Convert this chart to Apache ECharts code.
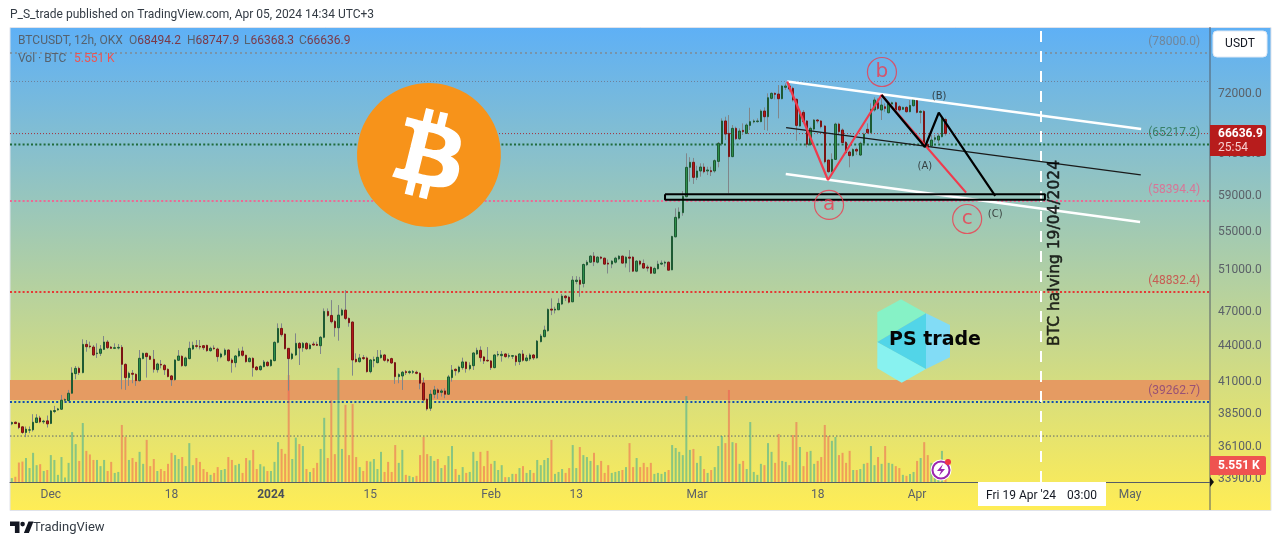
<!DOCTYPE html>
<html>
<head>
<meta charset="utf-8">
<style>html,body{margin:0;padding:0;background:#fff}#c{width:1281px;height:545px}</style>
<script src="https://cdn.jsdelivr.net/npm/echarts@6/dist/echarts.min.js"></script>
</head>
<body>
<div id="c"></div>
<script>
// each row: open, close, low, high (USDT)
const candles = [
[37780,37880,37680,37950],[37900,37800,37760,37950],[37830,37510,37390,37880],[37560,37150,37050,37585],[37150,37390,36810,37585],
[37320,37340,37100,37585],[37340,37900,37220,38500],[37880,38220,37830,38500],[38220,37930,37830,38375],[37930,37980,37780,38075],
[38000,37780,37510,38400],[37810,38750,37760,38825],[38700,38775,38575,39130],[38825,38900,38775,38980],[38875,39565,38825,39980],
[39565,39615,39385,39720],[39540,40110,39465,40370],[40110,41730,40060,42200],[41680,42110,41220,42305],[42110,41760,41570,42250],
[41760,44130,41705,44570],[44130,43930,43500,44510],[43990,43930,43790,44365],[43900,43225,43140,44075],[43340,43390,42975,44220],
[43365,43730,43140,44075],[43700,44335,43645,44860],[44335,43845,43730,44510],[43900,43790,43760,43990],[43790,43845,43730,44220],
[43815,43875,43700,44160],[43875,42440,40420,44075],[42440,41355,40370,42525],[41355,41705,40690,41840],[41705,41625,40900,41975],
[41625,41110,40690,41705],[41110,42945,41030,43645],[42920,43365,42860,43420],[43365,43085,41355,43420],[43115,42860,42805,43225],
[42860,42030,41760,43645],[42000,42470,41760,42580],[42440,42385,42110,42805],[42360,42000,41570,42470],[42030,41435,41380,42110],
[41490,41190,40690,41570],[41190,42805,41110,42860],[42780,43140,42725,43645],[43115,42330,42250,43200],[42330,42975,42250,43085],
[42920,43790,42860,44365],[43730,44045,43645,44365],[44015,43960,43790,44510],[43960,43900,43700,44510],[44015,43845,43645,44075],
[44045,43590,43500,44100],[43590,43790,43500,43930],[43815,43760,43675,44045],[43730,43085,42665,43845],[43060,43310,42945,43420],
[43250,43645,43140,43790],[43645,42750,42665,43700],[42805,42580,41760,42945],[42580,43140,42195,43225],[43140,43560,43030,43790],
[43560,43200,43085,43930],[43200,42665,42580,43250],[42665,42945,42610,43030],[42945,42170,41435,43030],[42220,42000,41920,42305],
[42000,42275,41920,42360],[42250,42640,42195,42805],[42610,42330,42250,42725],[42330,42805,42250,42860],[42750,44305,42690,44395],
[44305,45530,44220,45980],[45530,44975,44800,45980],[45030,43760,43700,45090],[43790,42920,40320,43815],[42920,43310,42805,43420],
[43225,44220,43140,45090],[44220,43815,42385,44335],[43845,44220,43500,44335],[44220,43760,43645,44335],[43760,44075,43700,44220],
[44160,44075,44015,44365],[44130,44045,43990,44365],[44015,44745,43310,44860],[44745,47070,44660,47345],[47070,46700,46580,47345],
[46700,46130,45980,48120],[46160,45590,44800,46280],[45590,46730,44450,47655],[46730,47190,46640,47345],[47190,46430,46280,49070],
[46430,46040,45680,46520],[46100,42805,41515,46160],[42860,42665,42580,43365],[42665,42975,42580,43310],[43000,42920,42805,43225],
[42975,41840,41760,43085],[41840,42805,41705,42890],[42750,42835,42195,43085],[42580,43030,42525,43645],[43000,43225,42920,43645],
[43225,42780,42665,43310],[42835,42725,42580,42945],[42920,42555,42470,43000],[42580,41435,40850,42640],[41435,41600,40900,41705],
[41490,41790,40370,41895],[41840,41760,41570,41975],[41760,41840,41630,41950],[41790,41840,41650,41975],[41790,41705,41625,41920],
[41705,40900,40420,41790],[40925,39590,39540,41355],[39640,38900,38775,39720],[38950,40030,38750,40370],[40030,40370,39720,40690],
[40370,40160,39670,40500],[40185,40290,39850,40450],[40290,40030,39720,40500],[40030,41410,39980,41570],[41355,41975,41030,42385],
[42030,41920,41515,42110],[41840,42220,41705,42330],[42170,42640,42000,43000],[42640,42085,41760,42665],[42085,42360,41950,42610],
[42330,43395,41975,43450],[43310,43620,43225,43845],[43620,43000,42665,43960],[43060,42725,42470,43140],[42780,42725,42665,43900],
[42725,42170,41975,42805],[42170,43225,42110,43280],[43225,43280,43085,43560],[43170,43280,42665,43560],[43310,43085,43000,43365],
[43115,43170,42945,43365],[43115,43170,42890,43225],[43140,42665,42330,43225],[42665,43310,42385,43365],[43310,42780,42665,43645],
[42750,42975,42665,43225],[42890,43225,42725,43365],[43225,42975,42805,43310],[42975,44420,42920,44510],[44365,44860,44305,45030],
[44800,45380,44745,45770],[45320,47250,45240,47345],[47280,47190,46730,48280],[47190,47280,46880,47500],[47220,47810,47190,48280],
[47750,48500,47655,48700],[48500,48340,48030,48590],[48400,47930,47810,48530],[47960,50035,47930,50430],[49900,50035,49640,50430],
[50035,49640,48435,50360],[49710,51590,49330,51690],[51560,51820,51430,52030],[51820,52440,51760,52540],[52440,51860,51430,52850],
[51820,52340,51690,52440],[52340,52230,52100,52440],[52230,51630,51560,52300],[51730,51630,50690,52100],[51630,51930,51220,52030],
[51820,52230,51690,52370],[52160,52440,52030,52540],[52440,51730,51690,52510],[51730,52340,51290,52440],[52340,52230,50820,53060],
[52340,50920,50850,52440],[50920,51930,50820,52030],[51930,51630,51490,52030],[51690,51230,51160,52100],[51330,51230,50890,51560],
[51330,50720,50650,51390],[50720,51190,50650,51360],[51160,51630,51090,51970],[51630,51730,51530,52000],[51730,51820,51360,51970],
[51820,51020,50990,51900],[51050,54500,51020,54570],[54460,56570,54390,57570],[56490,57160,56340,57680],[57090,58940,56750,59550],
[58900,62380,58820,64110],[62380,63000,60660,63630],[63000,61170,60390,63540],[61170,61940,60850,62580],[61940,62420,61250,62870],
[62420,61850,61650,62870],[61940,62060,61450,62460],[61980,61850,61330,62460],[61940,63200,61730,63360],[63110,65380,62380,65550],
[65290,68300,65210,68650],[68300,66580,65800,68870],[66670,63700,59290,69090],[63700,67320,63630,67760],[67320,65970,65800,67540],
[65970,66970,65800,67320],[67060,66890,66450,67980],[66670,67760,66580,67980],[67710,68210,67105,70090],[68170,68300,67980,68520],
[68210,68300,68070,68650],[68210,69640,68120,69870],[69640,68870,67105,70140],[68870,71480,67020,72090],[71390,72090,71250,72230],
[72090,71950,71250,72230],[71990,71340,68650,73270],[71340,73130,71250,73270],[72940,73130,72560,73510],[73130,72700,72320,73890],
[72800,71160,70930,73030],[71250,67710,65720,71390],[67630,69460,67540,69780],[69460,68210,67980,69780],[68300,65250,64860,68430],
[65250,67320,65030,67540],[67230,68430,67020,68560],[68430,68300,67980,68560],[68300,67540,67320,68430],[67630,63070,62870,67760],
[63280,61850,61730,63280],[61850,63360,61770,64110],[63360,67890,63280,68070],[67890,66890,66670,68070],[67105,65470,65290,67320],
[65510,64200,64030,65670],[64280,63830,62380,64450],[63830,64610,63700,64740],[64610,64400,63900,64820],[63900,65380,63780,65590],
[65380,66580,65290,66760],[67190,66760,66580,67980],[66760,69870,66670,70690],[69780,71160,69550,71530],[70780,70000,69780,71390],
[69780,70460,68430,71390],[70230,70000,69550,70690],[69410,70690,69320,70930],[70600,70780,70320,70930],[70780,69780,69550,70930],
[70230,69780,69550,70460],[69870,70140,69780,70230],[70140,69550,69410,70320],[69550,70410,69460,71160],[70370,71250,70230,71390],
[71250,69460,69320,71390],[69460,69590,67980,69780],[69590,65080,64860,69780],[65250,64860,64610,65590],[65030,65800,64950,66450],
[65890,66100,65590,66450],[65800,66320,65380,66670],[66230,68650,66140,68870],[68494.2,66636.9,66368.3,68747.9]
];
// volume, thousands of BTC
const volumes = [
1.2,1.6,6.0,6.3,7.4,4.3,9.0,5.2,5.5,3.4,
3.7,8.3,6.8,2.2,7.7,1.4,5.9,15.4,11.7,6.5,
18.2,9.6,8.5,6.8,6.8,4.9,6.8,3.4,6.2,2.8,
3.1,17.6,13.9,6.8,7.4,6.2,9.3,5.6,13.0,4.9,
7.1,3.4,4.0,3.4,5.6,9.0,8.3,7.1,7.7,4.9,
12.0,5.2,7.4,6.2,4.0,3.1,2.2,2.8,4.6,3.7,
4.0,7.7,6.8,5.2,5.6,2.8,7.4,6.7,9.9,4.0,
5.5,4.8,3.4,3.4,6.2,12.3,10.2,8.7,33.0,7.1,
13.7,11.7,11.1,4.0,3.1,4.3,5.9,10.2,19.8,7.4,
25.3,8.6,35.2,10.2,23.8,8.3,24.1,7.7,4.6,3.4,
6.5,6.3,7.1,4.0,9.3,3.1,6.2,3.1,11.4,5.9,
9.9,2.2,1.9,1.5,1.9,8.3,13.9,8.6,8.0,
6.5,7.1,4.3,5.2,8.0,11.1,4.0,2.2,4.6,2.8,
3.1,9.3,6.5,9.3,4.9,9.6,5.6,6.5,3.7,5.2,
1.5,1.5,2.5,2.5,4.3,4.9,2.8,3.7,2.8,6.8,
5.2,6.8,7.4,13.0,2.5,3.1,4.0,2.8,4.3,11.4,
4.3,10.8,8.3,7.7,6.5,9.0,5.2,6.5,2.8,5.2,
2.8,3.1,3.4,3.7,4.6,12.0,4.6,7.4,4.6,5.9,
4.6,5.9,2.5,2.8,2.5,3.1,3.7,11.4,10.5,9.3,
8.3,26.5,9.9,
10.2,5.9,8.0,4.0,2.8,3.7,4.6,11.1,14.2,12.0,
28.4,12.3,12.0,5.6,6.5,4.0,18.5,3.1,2.2,5.6,
5.2,12.0,9.3,5.9,14.8,6.5,6.2,5.2,14.5,18.5,
10.8,4.9,9.3,9.6,5.6,6.5,7.7,17.6,14.2,12.7,
13.9,8.3,9.0,5.9,9.6,3.7,3.7,4.0,5.6,5.9,
11.1,5.2,7.7,5.6,11.1,5.9,5.6,4.9,4.3,2.2,
1.9,2.5,3.1,6.5,7.4,12.3,8.3,5.9,5.2,2.2,
9.6,5.551
];
const firstBarTime = Date.UTC(2023,10,25,12);
const totalSlots = 338;
const xTicks = {'2023-12-01':'Dec','2023-12-18':'18','2024-01-01':'2024','2024-01-15':'15','2024-02-01':'Feb','2024-02-13':'13','2024-03-01':'Mar','2024-03-18':'18','2024-04-01':'Apr','2024-05-01':'May'};
const priceTicks = [72000,64000,59000,55000,51000,47000,44000,41000,38500,36100,33900];
// annotation x values are bar slots (fractional), y values are prices
const priceLines = [
 {value:78000,color:'#7f8a94',width:1.5,dash:[2,3],text:'(78000.0)',tc:'#747c86'},
 {value:73780,color:'#6f8199',width:1,dash:[1,2]},
 {value:66636.9,color:'#a5303a',width:1,dash:[1,2]},
 {value:65240,color:'#1f6b3c',width:2,dash:[2,2.2],text:'(65217.2)',tc:'#25704c'},
 {value:58394.4,color:'#ec6a94',width:2,dash:[2,2.2],text:'(58394.4)',tc:'#e8628c'},
 {value:48900,color:'#e53935',width:2,dash:[2,2.2],text:'(48832.4)',tc:'#cc4040'},
 {value:39435,color:'#1450b0',width:2,dash:[2,2.2],text:'(39262.7)',tc:'#84407a'},
 {value:36890,color:'#5b6470',width:1,dash:[1.5,2]}
];
const zoneHigh = 41165, zoneLow = 39590;
const channelTop = [[218.9,73780],[318.6,67240]];
const channelMid = [[218.6,67410],[318.5,61470]];
const channelLow = [[218.5,61580],[318.3,56050]];
const redWave = [[218.9,73780],[230.4,60860],[245.5,71860],[269.3,59370]];
const blackWave = [[245.5,71860],[257.7,64910],[261.6,69410],[277.5,59000]];
const supportBox = [[184.5,59170],[291.5,59170],[291.5,58550],[184.5,58550],[184.5,59170]];
const halvingLine = [[290.4,33720],[290.4,81915]];
const waveCircles = [['a',230.7,57960],['b',245.6,75165],['c',269.6,56390]];
const waveTexts = [['(A)',257.7,62550],['(B)',261.7,71720],['(C)',277.5,56950]];

const catAll = [];
for(let i=0;i<totalSlots;i++){const d=new Date(firstBarTime+i*43200000).toISOString();catAll.push(d.slice(0,13));}
const tickIndex = {};
catAll.forEach((c,i)=>{const d=c.slice(0,10);if(c.endsWith('T00')&&xTicks[d])tickIndex[i]=xTicks[d];});

const lineSeries=(name,data,color,width,z,dash)=>({name,type:'line',xAxisIndex:1,yAxisIndex:0,data,showSymbol:false,symbol:'none',silent:true,z,lineStyle:{color,width,type:dash||'solid'}});
const F='Roboto, sans-serif';
const series=[
 {type:'line',xAxisIndex:1,yAxisIndex:0,data:[],z:1,silent:true,
  markArea:{silent:true,itemStyle:{color:'#e59b62'},data:[[{xAxis:0,yAxis:zoneHigh},{xAxis:totalSlots,yAxis:zoneLow}]]}},
 ...priceLines.map(l=>lineSeries('p'+l.value,[[0,l.value],[totalSlots,l.value]],l.color,l.width,2,l.dash)),
 {type:'bar',xAxisIndex:0,yAxisIndex:1,barWidth:2,z:3,silent:true,data:volumes,
  itemStyle:{color:p=>candles[p.dataIndex][1]>=candles[p.dataIndex][0]?'rgba(38,166,154,0.5)':'rgba(239,83,80,0.5)'}},
 {type:'candlestick',xAxisIndex:0,yAxisIndex:0,barWidth:1,z:4,silent:true,data:candles,
  itemStyle:{color:'#80868a',color0:'#80868a',borderColor:'#80868a',borderColor0:'#80868a',borderWidth:1}},
 {type:'candlestick',xAxisIndex:0,yAxisIndex:0,barWidth:2,z:5,silent:true,
  data:candles.map(r=>[r[0],r[1],Math.min(r[0],r[1]),Math.max(r[0],r[1])]),
  itemStyle:{color:'#2e8e4a',color0:'#b01818',borderColor:'#1d5a33',borderColor0:'#7a1414',borderWidth:1}},
 lineSeries('halving',halvingLine,'#ffffff',2,6,[11,9]),
 lineSeries('top',channelTop,'#ffffff',2.5,6),
 lineSeries('low',channelLow,'#ffffff',2.5,6),
 lineSeries('mid',channelMid,'#1a1a1a',1.2,6),
 lineSeries('box',supportBox,'#000000',2,6),
 lineSeries('red',redWave,'#ef3b4d',2.2,7),
 lineSeries('black',blackWave,'#000000',2.2,8),
 {type:'scatter',xAxisIndex:1,yAxisIndex:0,z:9,silent:true,symbolSize:29,
  data:waveCircles.map(c=>({value:[c[1],c[2]],label:{formatter:c[0]}})),
  itemStyle:{color:'rgba(0,0,0,0)',borderColor:'#ef3b4d',borderWidth:1.2},
  label:{show:true,position:'inside',color:'#ef3b4d',fontSize:20,fontFamily:'DejaVu Sans'}},
 {type:'scatter',xAxisIndex:1,yAxisIndex:0,z:9,silent:true,symbolSize:0,
  data:waveTexts.map(c=>({value:[c[1],c[2]],label:{formatter:c[0]}})),
  label:{show:true,position:'inside',color:'#222',fontSize:10,fontFamily:'DejaVu Sans'}},
 {type:'scatter',xAxisIndex:1,yAxisIndex:0,z:9,silent:true,symbolSize:0,
  data:priceLines.filter(l=>l.text).map(l=>({value:[335.2,l.value],label:{formatter:l.text,color:l.tc}})),
  label:{show:true,position:[0,-17],align:'right',fontSize:12,fontFamily:F}},
 {type:'scatter',xAxisIndex:1,yAxisIndex:0,z:9,silent:true,symbolSize:0,
  data:[{value:[294.4,52770],label:{formatter:'BTC halving 19/04/2024'}}],
  label:{show:true,position:'inside',rotate:90,color:'#000',fontSize:15.5,fontFamily:'DejaVu Sans',textBorderColor:'#000',textBorderWidth:0.5}}
];
const T=(text,x,y,fill,extra)=>({type:'text',z:200,silent:true,style:Object.assign({text,x,y,fill,font:'12px '+F,verticalAlign:'middle'},extra||{})});
const legend=(p,v,x)=>({type:'text',z:200,silent:true,style:{text:'{l|'+p+'}{v|'+v+'}',x,y:41,verticalAlign:'middle',rich:{l:{fill:'#56626e',font:'12px '+F},v:{fill:'#7a3a48',font:'12px '+F}}}});
const btcCircle='M63.04 39.741c-4.274 17.143-21.638 27.575-38.783 23.301C7.12 58.768-3.313 41.404.962 24.262 5.234 7.117 22.597-3.317 39.737.957c17.144 4.274 27.576 21.64 23.302 38.784z';
const btcB='M46.11 27.441c.636-4.258-2.606-6.547-7.039-8.074l1.438-5.768-3.512-.875-1.4 5.616c-.922-.23-1.87-.447-2.812-.662l1.41-5.653-3.509-.875-1.439 5.766c-.764-.174-1.514-.346-2.242-.527l.004-.018-4.842-1.209-.934 3.75s2.605.597 2.55.634c1.422.355 1.68 1.296 1.636 2.042l-1.638 6.571c.098.025.225.061.365.117l-.37-.092-2.297 9.205c-.174.432-.615 1.08-1.609.834.035.051-2.552-.637-2.552-.637l-1.743 4.02 4.57 1.139c.85.213 1.683.436 2.502.646l-1.453 5.835 3.507.875 1.44-5.772c.957.26 1.887.5 2.797.726L27.504 50.8l3.511.875 1.453-5.823c5.987 1.133 10.49.676 12.383-4.738 1.527-4.36-.075-6.875-3.225-8.516 2.294-.531 4.022-2.04 4.483-5.157zM38.087 38.69c-1.086 4.36-8.426 2.004-10.807 1.412l1.928-7.729c2.38.594 10.011 1.77 8.88 6.317zm1.085-11.312c-.99 3.966-7.1 1.951-9.083 1.457l1.748-7.01c1.983.494 8.367 1.416 7.335 5.553z';
echarts.graphic.registerShape('btcCircle',echarts.graphic.extendPath(btcCircle,{}));
echarts.graphic.registerShape('btcB',echarts.graphic.extendPath(btcB,{}));
echarts.graphic.registerShape('tvLogo',echarts.graphic.extendPath('M10 521.5h9.5v11.5h-4.6v-7h-4.9zM22.6 521.8a2.3 2.3 0 1 0 .01 0zM28.5 521.5h5l-4.6 11.5h-5z',{}));
const poly=(points,fill,z)=>({type:'polygon',z:z||100,silent:true,shape:{points},style:{fill}});
const graphic=[
 {type:'rect',z:-10,silent:true,shape:{x:10,y:27.5,width:1261,height:483},style:{stroke:'#e0e3eb',lineWidth:1,fill:new echarts.graphic.LinearGradient(0,0,0,1,[{offset:0,color:'#5eb0f6'},{offset:1,color:'#ffed55'}])}},
 {type:'line',z:100,silent:true,shape:{x1:1210,y1:27,x2:1210,y2:510},style:{stroke:'#555c66',lineWidth:1}},
 {type:'btcCircle',z:100,silent:true,x:357,y:83,scaleX:2.25,scaleY:2.25,style:{fill:'#f7931a'}},
 {type:'btcB',z:101,silent:true,x:357,y:83,scaleX:2.25,scaleY:2.25,style:{fill:'#ffffff'}},
 poly([[877.3,312.3],[901,299.3],[926,313.3],[877.3,342]],'#86f2c6'),
 poly([[877.3,342],[901.5,355],[926,369],[901.7,382.7],[877.3,368.3]],'#88f2f0'),
 poly([[926,313.3],[877.3,342],[926,369]],'#52d5e8'),
 poly([[926,313.3],[950,325],[950,357.3],[926,369]],'#82dcf6'),
 T('PS trade',889,340,'#050505',{font:'bold 19px "DejaVu Sans"'}),
 T('P_S_trade published on TradingView.com, Apr 05, 2024 14:34 UTC+3',10,15,'#333b44'),
 T('BTCUSDT, 12h, OKX',18,41,'#56626e'),
 legend('O','68494.2',129),legend('H','68747.9',187),legend('L','66368.3',244),legend('C','66636.9',299),
 T('Vol · BTC',18,59,'#56626e'),T('5.551 K',74,59,'#ef5350'),
 {type:'rect',z:200,silent:true,shape:{x:1213,y:31,width:54,height:26,r:4},style:{fill:'#fff',stroke:'#dfe8f4',lineWidth:1}},
 T('USDT',1240,44,'#131722',{align:'center'}),
 {type:'rect',z:200,silent:true,shape:{x:1210,y:125,width:56,height:31,r:[0,2,2,0]},style:{fill:'#b71c1c'}},
 T('66636.9',1218,134,'#ffffff',{font:'bold 12px '+F}),
 T('25:54',1218,148,'#f7d0d0'),
 {type:'rect',z:200,silent:true,shape:{x:1210,y:456,width:56,height:19,r:[0,2,2,0]},style:{fill:'#ef5350'}},
 T('5.551 K',1218,465.5,'#ffffff',{font:'bold 12px '+F}),
 poly([[1210,477],[1214,482],[1210,487]],'#111',210),
 {type:'rect',z:200,silent:true,shape:{x:978,y:482,width:128,height:24},style:{fill:'#ffffff'}},
 T("Fri 19 Apr '24",986,496,'#131722'),T('03:00',1067,496,'#131722'),
 {type:'circle',z:200,silent:true,shape:{cx:941,cy:470,r:10.5},style:{fill:'#fff'}},
 {type:'circle',z:201,silent:true,shape:{cx:941,cy:470,r:8.5},style:{fill:'#fff',stroke:'#9c27b0',lineWidth:2}},
 poly([[943,464],[937,471],[941,471],[939,476],[945,469],[941,469]],'#9c27b0',202),
 {type:'circle',z:203,silent:true,shape:{cx:948,cy:462,r:3},style:{fill:'#f23645'}},
 {type:'tvLogo',z:200,silent:true,style:{fill:'#131722'}},
 T('TradingView',33,527.5,'#333b44',{font:'13px '+F})
];
const chart=echarts.init(document.getElementById('c'),null,{renderer:'canvas'});
chart.setOption({
 animation:false,backgroundColor:'#ffffff',tooltip:{show:false},
 grid:{left:10,top:28,width:1200,height:454,containLabel:false},
 xAxis:[
  {type:'category',data:catAll,boundaryGap:true,position:'bottom',
   axisLine:{show:true,lineStyle:{color:'#555c66',width:1}},axisTick:{show:false},splitLine:{show:false},
   axisLabel:{show:true,interval:(i)=>tickIndex[i]!==undefined,hideOverlap:false,margin:7,
     formatter:(v,i)=>{const t=tickIndex[i]||'';return t==='2024'?'{b|2024}':t;},color:'#5b6168',fontSize:12,fontFamily:F,
     rich:{b:{fontWeight:'bold',color:'#4a5058',fontSize:12,fontFamily:F}}}},
  {type:'value',min:0,max:totalSlots,show:false}
 ],
 yAxis:[
  {type:'log',logBase:10,min:33720,max:81915,position:'right',
   axisLine:{show:false},axisTick:{show:false},splitLine:{show:false},
   axisLabel:{show:true,customValues:priceTicks,margin:8,color:'#5b6168',fontSize:12,fontFamily:F,hideOverlap:false,showMinLabel:true,showMaxLabel:true,formatter:v=>Number(v).toFixed(1)}},
  {type:'value',min:0,max:140.1,show:false}
 ],
 series,graphic
});
</script>
</body>
</html>
